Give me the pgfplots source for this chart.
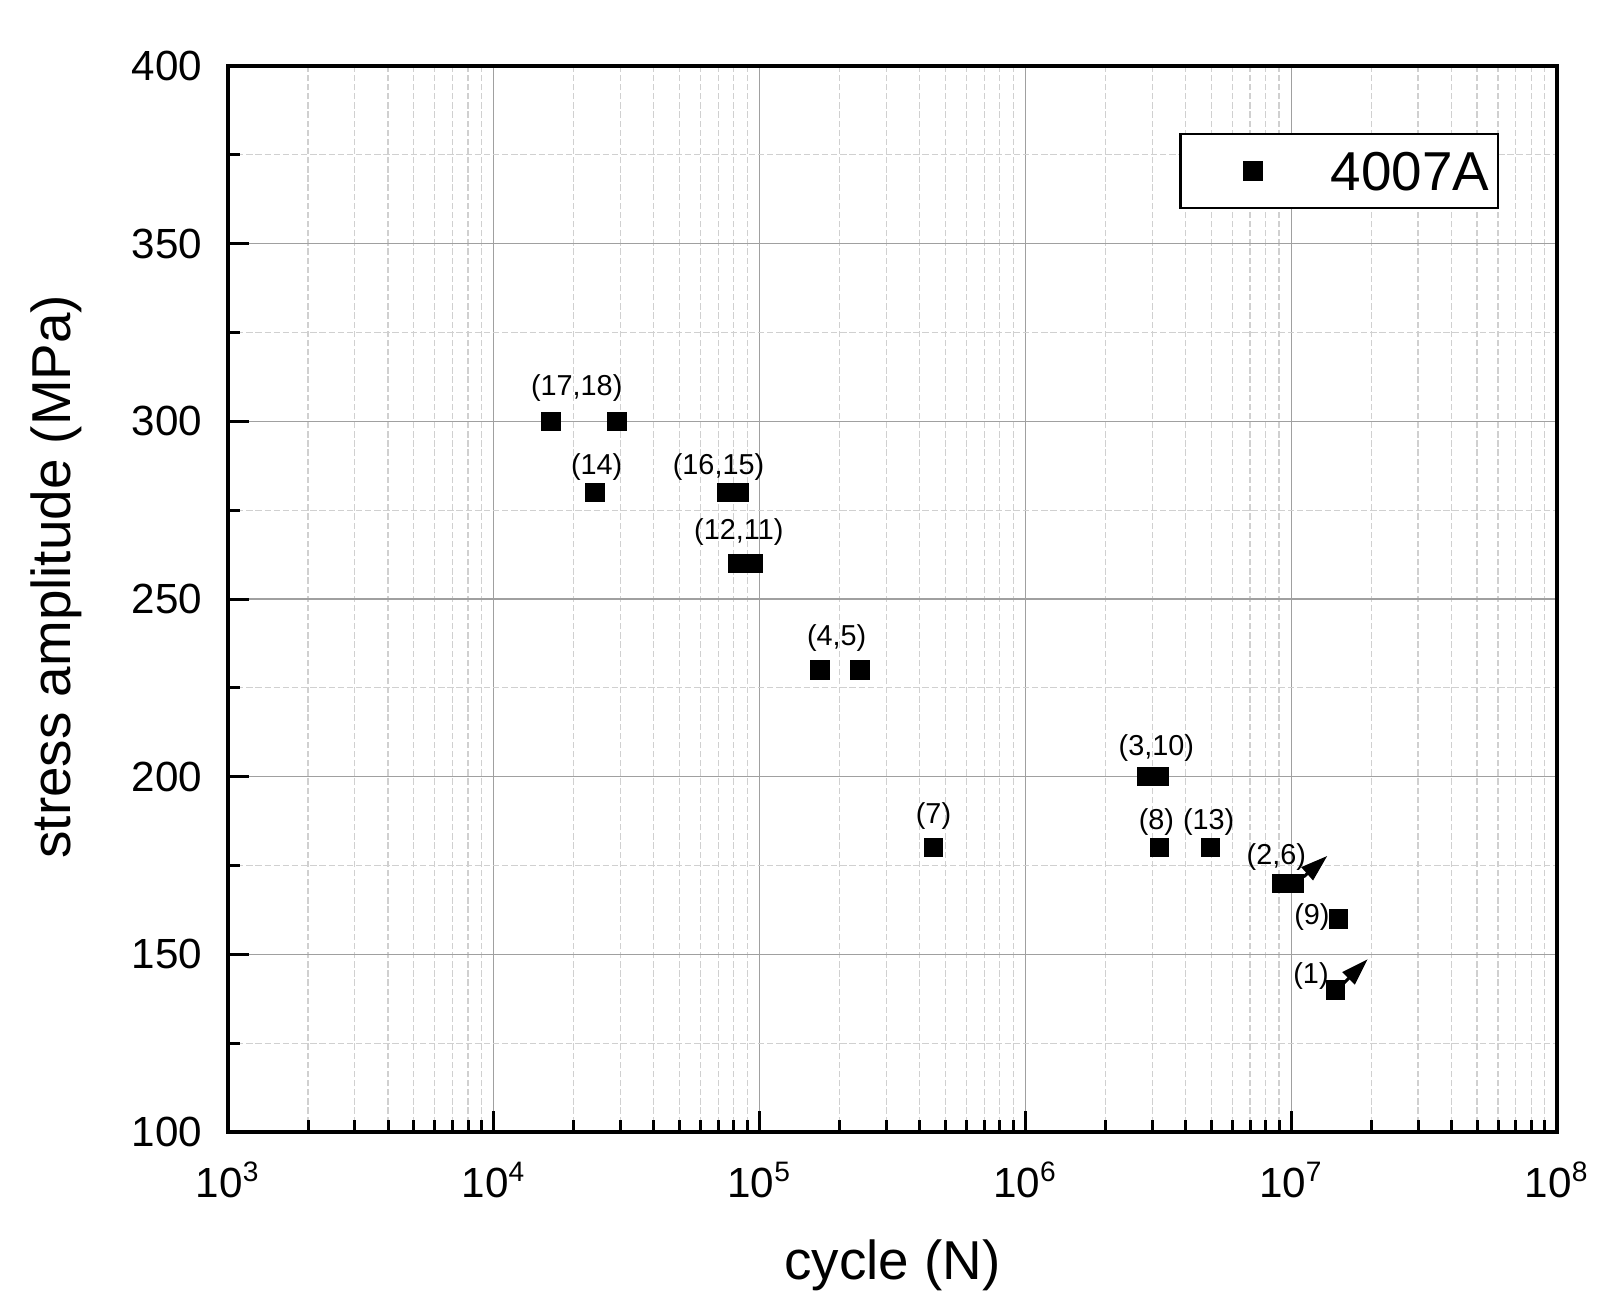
\documentclass[border=0pt]{standalone}
\usepackage{fontspec}
\setmainfont{Liberation Sans}
\usepackage{pgfplots}
\pgfplotsset{compat=1.18}
\usetikzlibrary{arrows.meta}

\definecolor{majorgrid}{RGB}{160,160,160}
\definecolor{minorgrid}{RGB}{208,208,208}

\pgfplotstableread{
N        S
16420    300
29030    300
24040    280
74930    280
84170    280
82450    260
95000    260
168700   230
238600   230
450300   180
2850000  200
3200000  200
3200000  180
4960000  180
9180000  170
10310000 170
15070000 160
14660000 140
}\datafourA

\begin{document}
\begin{tikzpicture}
\useasboundingbox (-22.8mm,-17.5mm) rectangle (139.4mm,113.2mm);
\begin{axis}[
    scale only axis,
    width=132.9mm, height=106.6mm,
    xmode=log,
    xmin=1e3, xmax=1e8,
    ymin=100, ymax=400,
    xtick={1e3,1e4,1e5,1e6,1e7,1e8},
    xticklabels={10\textsuperscript{3},10\textsuperscript{4},10\textsuperscript{5},10\textsuperscript{6},10\textsuperscript{7},10\textsuperscript{8}},
    minor xtick={2e3,3e3,4e3,5e3,6e3,7e3,8e3,9e3,
                 2e4,3e4,4e4,5e4,6e4,7e4,8e4,9e4,
                 2e5,3e5,4e5,5e5,6e5,7e5,8e5,9e5,
                 2e6,3e6,4e6,5e6,6e6,7e6,8e6,9e6,
                 2e7,3e7,4e7,5e7,6e7,7e7,8e7,9e7},
    ytick={100,150,...,400},
    minor y tick num=1,
    tick pos=left,
    tick align=inside,
    major tick length=2.1mm,
    minor tick length=1.2mm,
    every tick/.style={black, line width=0.3mm},
    axis line style={line width=0.4mm},
    grid=both,
    major grid style={color=majorgrid, line width=0.35pt},
    minor grid style={color=minorgrid, line width=0.35pt, dash pattern=on 1.8pt off 0.8pt},
    xticklabel style={anchor=base, inner sep=0pt, yshift=-6.5mm, font=\fontsize{12}{14}\selectfont},
    yticklabel style={anchor=east, inner sep=0pt, xshift=-2.5mm, font=\fontsize{12}{14}\selectfont,
                      /pgf/number format/assume math mode=true},
    xlabel={cycle (N)},
    ylabel={stress amplitude (MPa)},
    xlabel style={at={(axis description cs:0.5,-0.1388)}, anchor=base, inner sep=0pt,
                  font=\fontsize{15.6}{18}\selectfont},
    ylabel style={at={(axis description cs:-0.1294,0.521)}, anchor=center, inner sep=0pt,
                  font=\fontsize{15.6}{18}\selectfont},
    legend style={at={(axis description cs:0.9564,0.9374)}, anchor=north east,
                  draw=black, line width=0.25mm, inner xsep=0.83mm, inner ysep=0pt,
                  nodes={inner sep=0pt, text depth=0pt},
                  cells={anchor=center},
                  font=\fontsize{15.6}{18}\selectfont},
    legend image code/.code={
        \path[draw=none, fill=none] (0mm,-3.7mm) rectangle (14.2mm,3.7mm);
        \draw[#1] plot coordinates {(6.4mm,0mm)};
    },
]
\addplot[only marks, mark=square*, mark size=0.9mm, mark options={draw=none, fill=black}]
    table[x=N, y=S] {\datafourA};
\addlegendentry{4007A}

% specimen numbers
\begin{scope}[every node/.style={font=\fontsize{8.2}{9}\selectfont, inner sep=0pt, anchor=center}]
\node at (axis cs:20510,309.3) {(17,18)};
\node at (axis cs:24390,287.1) {(14)};
\node at (axis cs:70050,287.1) {(16,15)};
\node at (axis cs:83530,268.9) {(12,11)};
\node at (axis cs:195000,238.9) {(4,5)};
\node at (axis cs:451000,189) {(7)};
\node at (axis cs:3110000,208) {(3,10)};
\node at (axis cs:3110000,187.1) {(8)};
\node at (axis cs:4890000,187.1) {(13)};
\node at (axis cs:8790000,177.5) {(2,6)};
\node at (axis cs:11960000,160.4) {(9)};
\node at (axis cs:11870000,144) {(1)};
\end{scope}

% run-outs
\draw[line width=0.3mm, -{Triangle[length=2.7mm,width=1.7mm]}]
    (axis cs:11140000,171.8) -- (axis cs:13670000,177.7);
\draw[line width=0.3mm, -{Triangle[length=2.7mm,width=1.7mm]}]
    (axis cs:15620000,141.6) -- (axis cs:19400000,148.6);
\end{axis}
\end{tikzpicture}
\end{document}
